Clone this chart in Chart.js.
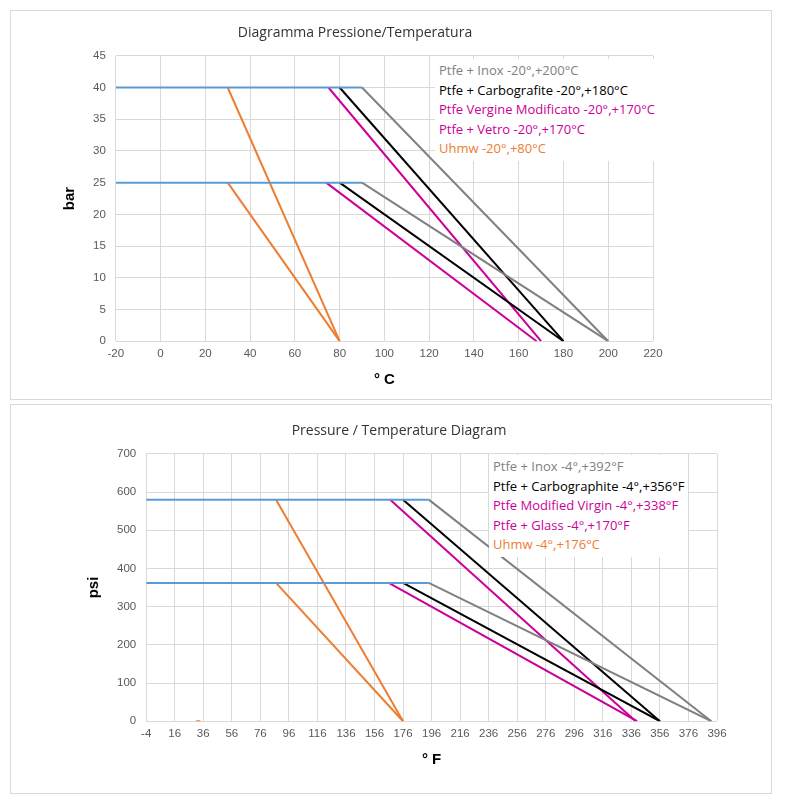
<!DOCTYPE html>
<html>
<head>
<meta charset="utf-8">
<script src="https://cdn.jsdelivr.net/npm/chart.js@4/dist/chart.umd.min.js"></script>
<style>
  body { margin: 0; background: #fff; font-family: Calibri, "Liberation Sans", "Open Sans", sans-serif; }
  .box { position: absolute; left: 10px; width: 760px; height: 388px; border: 1px solid #d9d9d9; background: #fff; }
  .box canvas { position: absolute; left: 0; top: 0; }
  .legend { position: absolute; background: #fff; font-size: 13px; line-height: 19.5px; padding: 2px 4px; font-family: "Open Sans", sans-serif; }
</style>
</head>
<body>
<div class="box" style="top:10px"><canvas id="c1" width="760" height="388"></canvas>
  <div class="legend" id="l1" style="left:424px;top:48px"></div></div>
<div class="box" style="top:404px"><canvas id="c2" width="760" height="388"></canvas>
  <div class="legend" id="l2" style="left:478px;top:50px"></div></div>
<script>
// ---- Celsius / bar chart ----
var cLabels = ['Ptfe + Inox -20°,+200°C', 'Ptfe + Carbografite -20°,+180°C', 'Ptfe Vergine Modificato -20°,+170°C', 'Ptfe + Vetro -20°,+170°C', 'Uhmw -20°,+80°C'];
var cBlueHigh = [[-20, 40], [90, 40]];
var cBlueLow = [[-20, 25], [90, 25]];
var cGrayHigh = [[90, 40], [200, 0]];
var cGrayLow = [[90, 25], [200, 0]];
var cBlackHigh = [[80, 40], [180, 0]];
var cBlackLow = [[80, 25], [180, 0]];
var cMagHigh = [[75, 40], [170, 0]];
var cMagLow = [[74, 25], [168, 0]];
var cOrangeHigh = [[30, 40], [80, 0]];
var cOrangeLow = [[30, 25], [80, 0]];

// ---- Fahrenheit / psi chart ----
var fLabels = ['Ptfe + Inox -4°,+392°F', 'Ptfe + Carbographite -4°,+356°F', 'Ptfe Modified Virgin -4°,+338°F', 'Ptfe + Glass -4°,+170°F', 'Uhmw -4°,+176°C'];
var fBlueHigh = [[-4, 580], [194, 580]];
var fBlueLow = [[-4, 362], [194, 362]];
var fGrayHigh = [[194, 580], [392, 0]];
var fGrayLow = [[194, 362], [392, 0]];
var fBlackHigh = [[176, 580], [356, 0]];
var fBlackLow = [[176, 362], [356, 0]];
var fMagHigh = [[167, 580], [339, 0]];
var fMagLow = [[166, 362], [340, 0]];
var fOrangeHigh = [[87, 580], [176, 0]];
var fOrangeLow = [[87, 362], [176, 0]];
var fOrangeStub = [[31, 0], [34, 0]];

var BLUE = '#5b9bd5', GRAY = '#808080', BLACK = '#000000', MAG = '#cc0099', ORANGE = '#ed7d31';
var legendColors = [GRAY, BLACK, MAG, MAG, ORANGE];

function seg(pts, color) {
  return { data: pts.map(function (p) { return { x: p[0], y: p[1] }; }),
    borderColor: color, borderWidth: 2, pointRadius: 0, fill: false, tension: 0 };
}

function makeChart(id, sets, cfg) {
  new Chart(document.getElementById(id), {
    type: 'line',
    data: { datasets: sets },
    options: {
      responsive: false, animation: false,
      layout: { padding: cfg.pad },
      plugins: {
        legend: { display: false }, tooltip: { enabled: false },
        title: { display: true, text: cfg.title, color: '#333', font: { size: 14, weight: 'normal', family: 'Open Sans' }, padding: { top: 8, bottom: 14 } }
      },
      scales: {
        x: { type: 'linear', min: cfg.xmin, max: cfg.xmax,
          ticks: { stepSize: cfg.xstep, color: '#595959', font: { size: 11.5 }, maxRotation: 0, autoSkip: false, padding: 6 },
          grid: { color: '#d9d9d9', drawTicks: false }, border: { display: false },
          title: { display: true, text: cfg.xtitle, color: '#000', font: { size: 15, weight: 'bold' } } },
        y: { min: 0, max: cfg.ymax,
          ticks: { stepSize: cfg.ystep, color: '#595959', font: { size: 11.5 }, padding: 10 },
          grid: { color: '#d9d9d9', drawTicks: false }, border: { display: false },
          title: { display: true, text: cfg.ytitle, color: '#000', font: { size: 15, weight: 'bold' } } }
      }
    }
  });
}

function legend(id, labels) {
  document.getElementById(id).innerHTML = labels.map(function (t, i) {
    return '<div style="color:' + legendColors[i] + '">' + t + '</div>';
  }).join('');
}

makeChart('c1', [
  seg(cBlueHigh, BLUE), seg(cBlueLow, BLUE), seg(cGrayHigh, GRAY), seg(cGrayLow, GRAY),
  seg(cBlackHigh, BLACK), seg(cBlackLow, BLACK), seg(cMagHigh, MAG), seg(cMagLow, MAG),
  seg(cOrangeHigh, ORANGE), seg(cOrangeLow, ORANGE)
], { title: 'Diagramma Pressione/Temperatura', xmin: -20, xmax: 220, xstep: 20, ymax: 45, ystep: 5,
  xtitle: '° C', ytitle: 'bar', pad: { left: 46, right: 118, top: 6, bottom: 6 } });

makeChart('c2', [
  seg(fBlueHigh, BLUE), seg(fBlueLow, BLUE), seg(fGrayHigh, GRAY), seg(fGrayLow, GRAY),
  seg(fBlackHigh, BLACK), seg(fBlackLow, BLACK), seg(fMagHigh, MAG), seg(fMagLow, MAG),
  seg(fOrangeHigh, ORANGE), seg(fOrangeLow, ORANGE), seg(fOrangeStub, ORANGE)
], { title: 'Pressure / Temperature Diagram', xmin: -4, xmax: 396, xstep: 20, ymax: 700, ystep: 100,
  xtitle: '° F', ytitle: 'psi', pad: { left: 70, right: 54, top: 10, bottom: 20 } });

legend('l1', cLabels);
legend('l2', fLabels);
</script>
</body>
</html>
